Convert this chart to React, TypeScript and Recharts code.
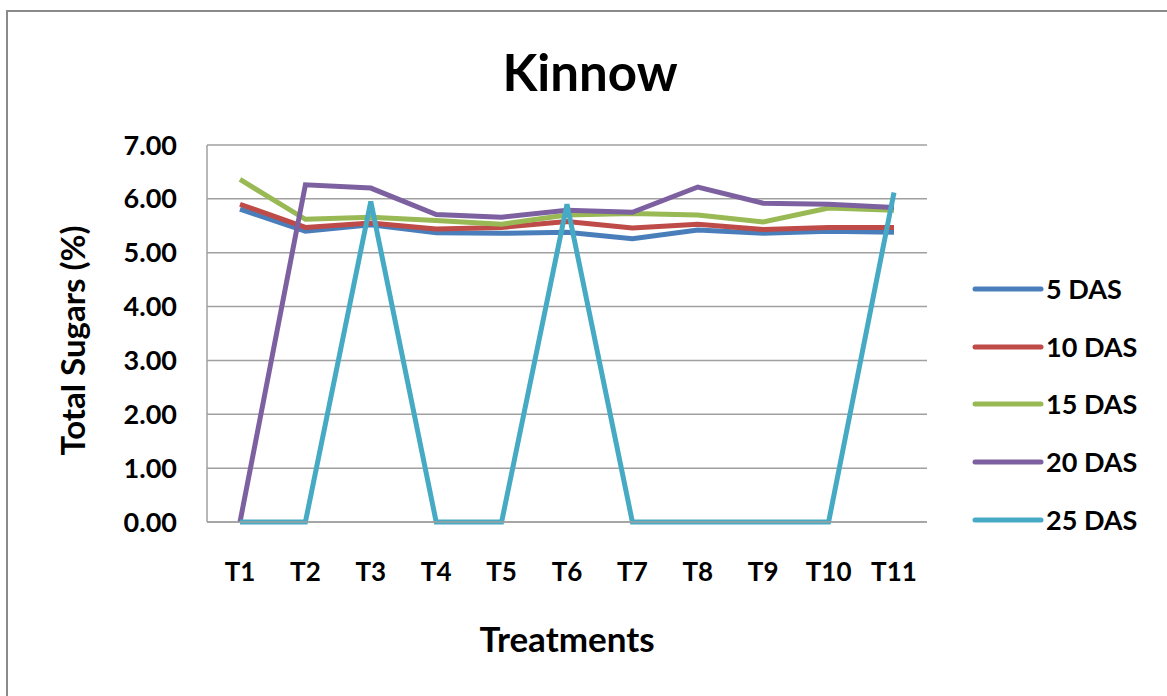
import React from "react";
import { LineChart, Line, XAxis, YAxis, CartesianGrid } from "recharts";

const categories = ["T1", "T2", "T3", "T4", "T5", "T6", "T7", "T8", "T9", "T10", "T11"];
const das5 = [5.81, 5.4, 5.52, 5.37, 5.36, 5.38, 5.26, 5.42, 5.36, 5.4, 5.38];
const das10 = [5.9, 5.47, 5.55, 5.44, 5.47, 5.58, 5.46, 5.53, 5.43, 5.47, 5.47];
const das15 = [6.36, 5.62, 5.66, 5.6, 5.53, 5.7, 5.73, 5.7, 5.57, 5.83, 5.79];
const das20 = [0, 6.26, 6.2, 5.71, 5.66, 5.79, 5.75, 6.22, 5.92, 5.9, 5.84];
const das25 = [0, 0, 5.95, 0, 0, 5.9, 0, 0, 0, 0, 6.12];
const yTicks = [0, 1, 2, 3, 4, 5, 6, 7];

const series = [
  { key: "d5", name: "5 DAS", values: das5, color: "#4A7EBB" },
  { key: "d10", name: "10 DAS", values: das10, color: "#BE4B48" },
  { key: "d15", name: "15 DAS", values: das15, color: "#98B954" },
  { key: "d20", name: "20 DAS", values: das20, color: "#7D60A0" },
  { key: "d25", name: "25 DAS", values: das25, color: "#46AAC5" },
];

const data = categories.map((c, i) => {
  const row: Record<string, string | number> = { cat: c };
  series.forEach((s) => {
    row[s.key] = s.values[i];
  });
  return row;
});

const FONT = "Lato, Calibri, 'Open Sans', sans-serif";

export default function App() {
  return (
    <div style={{ position: "absolute", left: 0, top: 0, width: 1167, height: 696, overflow: "hidden", background: "#fff", fontFamily: FONT }}>
      <div style={{ position: "absolute", left: 6, top: 10, width: 1200, height: 760, border: "2px solid #8a8a8a", boxSizing: "border-box" }} />
      <div style={{ position: "absolute", left: 0, width: 1180, top: 42, textAlign: "center", fontSize: 51, fontWeight: 700, color: "#000", lineHeight: "60px" }}>
        Kinnow
      </div>
      <div style={{ position: "absolute", left: 0, top: 0 }}>
        <LineChart width={1167} height={696} data={data} margin={{ top: 145, right: 240, bottom: 0, left: 0 }}>
          <CartesianGrid vertical={false} stroke="#a0a0a0" strokeWidth={1.5} />
          <XAxis
            dataKey="cat"
            height={174}
            interval={0}
            padding={{ left: 33, right: 33 }}
            tickLine={false}
            tickSize={0}
            tickMargin={41}
            axisLine={{ stroke: "#a0a0a0", strokeWidth: 1.5 }}
            tick={{ fill: "#000", fontSize: 26, fontWeight: 700, fontFamily: FONT }}
            label={{
              content: (props: any) => {
                const vb = props.viewBox;
                return (
                  <text x={vb.x + vb.width / 2} y={652} textAnchor="middle" fontSize={35} fontWeight={700} fontFamily={FONT} fill="#000">
                    Treatments
                  </text>
                );
              },
            }}
          />
          <YAxis
            width={207}
            domain={[0, 7]}
            ticks={yTicks}
            interval={0}
            tickFormatter={(v: number) => v.toFixed(2)}
            tickLine={false}
            tickSize={0}
            tickMargin={30}
            axisLine={{ stroke: "#a0a0a0", strokeWidth: 1.5 }}
            tick={{ fill: "#000", fontSize: 27, fontWeight: 700, fontFamily: FONT }}
            label={{
              content: (props: any) => {
                const vb = props.viewBox;
                const cy = vb.y + vb.height / 2 + 7;
                return (
                  <text x={85} y={cy} transform={`rotate(-90 85 ${cy})`} textAnchor="middle" fontSize={33} fontWeight={700} fontFamily={FONT} fill="#000">
                    Total Sugars (%)
                  </text>
                );
              },
            }}
          />
          {series.map((s) => (
            <Line
              key={s.key}
              type="linear"
              dataKey={s.key}
              name={s.name}
              stroke={s.color}
              strokeWidth={5}
              dot={false}
              activeDot={false}
              isAnimationActive={false}
            />
          ))}
        </LineChart>
      </div>
      <div style={{ position: "absolute", left: 970, top: 260 }}>
        {series.map((s) => (
          <div key={s.key} style={{ display: "flex", alignItems: "center", height: 57.8 }}>
            <svg width={76} height={10} style={{ display: "block" }}>
              <line x1={5} y1={5} x2={71} y2={5} stroke={s.color} strokeWidth={5} strokeLinecap="round" />
            </svg>
            <span style={{ fontSize: 27, fontWeight: 700, color: "#000", marginLeft: 0, lineHeight: "30px" }}>{s.name}</span>
          </div>
        ))}
      </div>
    </div>
  );
}
